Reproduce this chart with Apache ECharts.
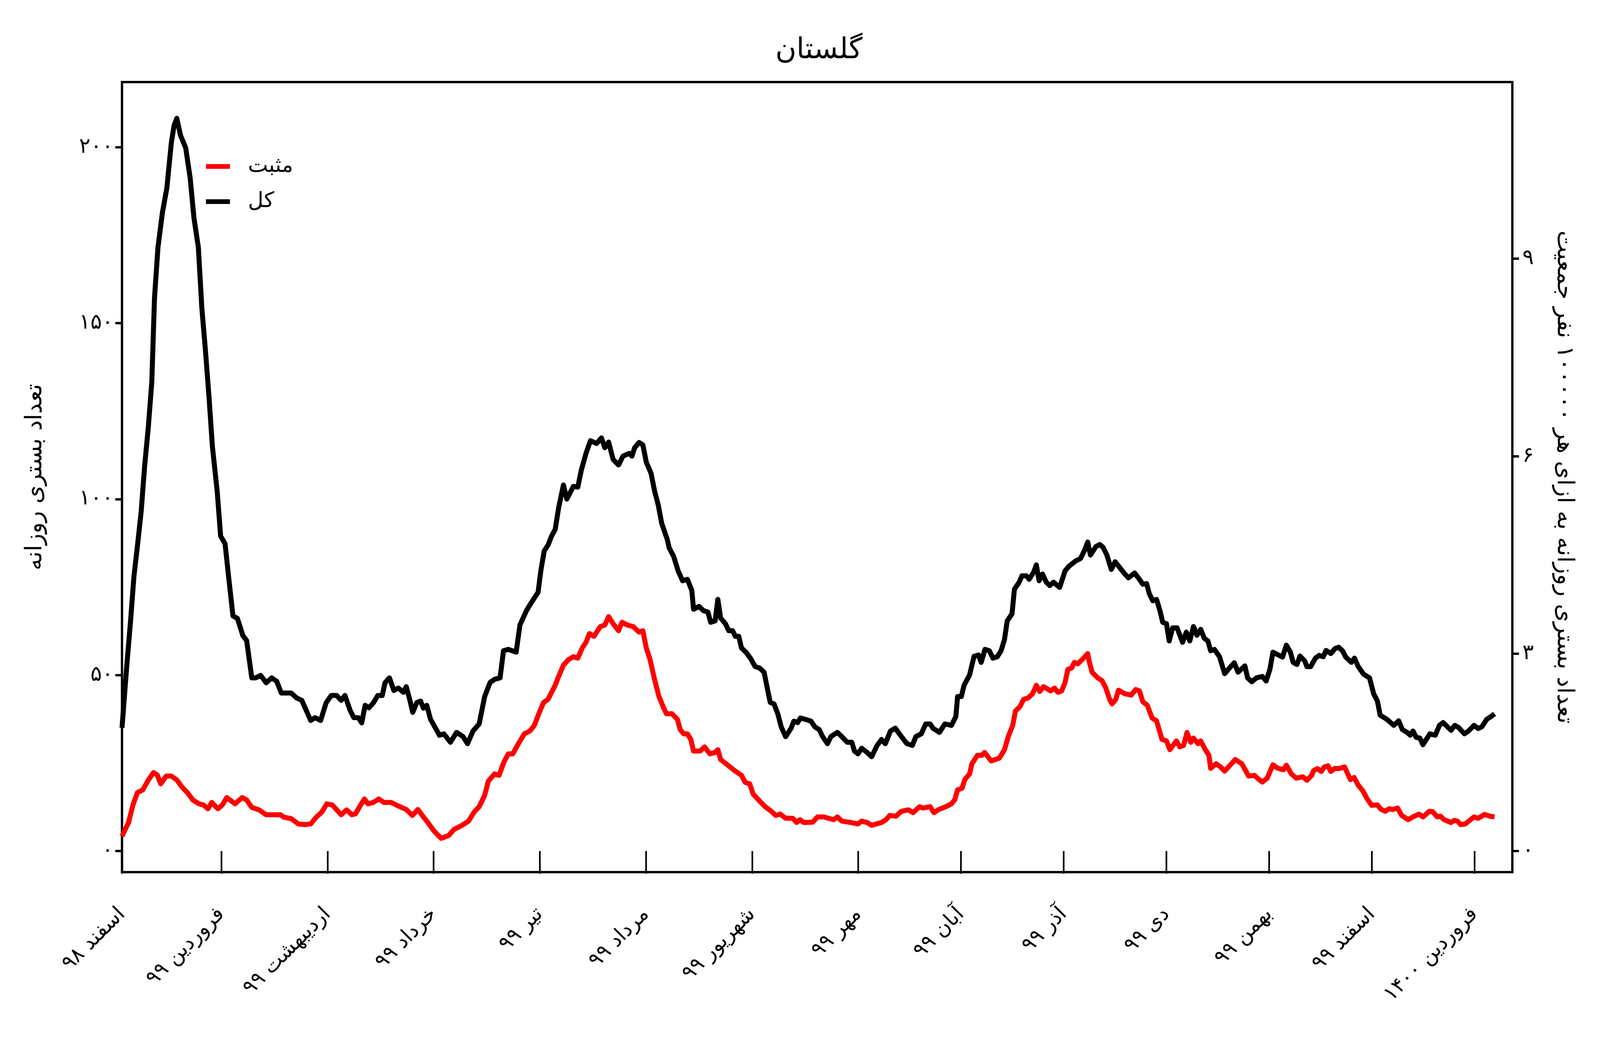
<!DOCTYPE html>
<html>
<head>
<meta charset="utf-8">
<script src="https://cdn.jsdelivr.net/npm/echarts@6/dist/echarts.min.js"></script>
<style>
  html, body { margin: 0; padding: 0; background: #fff; overflow: hidden; }
  #chart { width: 100vw; height: 100vh; }
</style>
</head>
<body>
<div id="chart"></div>
<script>
// روزهای شروع هر ماه شمسی (از ۱ اسفند ۹۸)
const monthStarts = [0, 29, 60, 91, 122, 153, 184, 215, 245, 275, 305, 335, 365, 395];
const monthLabels = ['اسفند ۹۸', 'فروردین ۹۹', 'اردیبهشت ۹۹', 'خرداد ۹۹', 'تیر ۹۹', 'مرداد ۹۹', 'شهریور ۹۹',
    'مهر ۹۹', 'آبان ۹۹', 'آذر ۹۹', 'دی ۹۹', 'بهمن ۹۹', 'اسفند ۹۹', 'فروردین ۱۴۰۰'];
const leftTicks = [0, 50, 100, 150, 200];
const rightTicks = [0, 3, 6, 9];
const perCapitaFactor = 18.7; // جمعیت / ۱۰۰۰۰۰

// کل بستری ها - [روز, مقدار]
const total = [
    [0, 35], [1.4, 52.7], [2.5, 65.4], [3.5, 78.2], [4.5, 86.6], [5.6, 96.5], [6.6, 109.3], [7.7, 120.6],
    [8.7, 133.3], [9.5, 157.3], [10.5, 171.5], [11.8, 181.4], [13.1, 188.4], [14.4, 201.2], [15.2, 206.1],
    [16, 208.2], [17.1, 203.3], [18.6, 199.8], [19.9, 191.3], [21, 180], [22.3, 171.5], [23.3, 154.5],
    [24.4, 141.8], [25.4, 129.1], [26.4, 114.9], [27.8, 102.2], [28.8, 89.5], [30.1, 87.3], [31.1, 78.2],
    [32.4, 66.8], [33.7, 66.1], [35.3, 61.2], [36.4, 59.8], [37.9, 49.2], [39, 49.2], [40.5, 49.9],
    [42.1, 47.8], [43.7, 49.2], [45.2, 48.2], [46.5, 44.9], [47.8, 44.9], [49.4, 44.9], [51, 43.5],
    [52.5, 42.8], [54.1, 39.3], [55.1, 37.1], [56.4, 37.9], [58, 37.1], [59.6, 42.1], [61.1, 44.2],
    [62.7, 44.2], [64, 42.8], [65.1, 44.2], [66.6, 40], [67.7, 37.9], [69, 37.9], [70, 36.4], [71, 41.4],
    [72.1, 40.7], [73.4, 42.1], [74.7, 44.2], [76, 44.2], [76.8, 47.8], [78.1, 49.2], [79.4, 45.6],
    [80.7, 46.3], [82.2, 45.1], [83, 46.7], [84, 43.1], [84.9, 39.4], [86.1, 42.2], [87.2, 42.6], [88, 40.6],
    [89, 41.4], [90.1, 37.4], [91.1, 35.7], [92.7, 32.9], [94, 33.3], [95.9, 30.9], [97.7, 33.7],
    [99.6, 32.5], [100.9, 30.5], [102.5, 34.1], [104.3, 36.1], [105.9, 43.9], [107.5, 47.9], [108.8, 48.8],
    [110.4, 49.2], [111.4, 56.9], [112.8, 57.3], [115.1, 56.5], [116.2, 64.2], [118.1, 68.3], [119.6, 70.7],
    [121.5, 73.5], [122.3, 79.6], [123.3, 85.3], [124.4, 86.9], [125.4, 89.4], [126.5, 91.4], [127.5, 97.5],
    [128.9, 104], [129.9, 100], [131.8, 103.6], [133.1, 103.4], [134.1, 108.1], [135.5, 113], [136.8, 116.6],
    [138.6, 115.8], [140, 117.4], [141, 114.6], [142.1, 116.2], [143.4, 111.3], [145, 109.7], [146.3, 112.2],
    [148.1, 113], [148.9, 112.2], [149.7, 114.6], [151, 116.1], [152.1, 115.4], [153.1, 110.5], [154.5, 107.3],
    [155.5, 102.4], [156.6, 98.3], [157.6, 93.1], [159.2, 88.6], [159.8, 86.1], [161.1, 83.7], [162.4, 79.6],
    [163.7, 76.8], [165.1, 77.2], [166.4, 74], [166.9, 68.7], [168.5, 69.5], [169.8, 68.3], [171.1, 67.9],
    [171.9, 65], [173.2, 65.4], [174, 71.5], [174.8, 66.2], [176.2, 64.6], [177.2, 62.6], [178.3, 62.6],
    [179.1, 61], [180.1, 61], [180.9, 57.7], [182.2, 56.5], [183.5, 54.8], [184.9, 52.4], [186.2, 52],
    [187.5, 50.8], [188.6, 45.5], [189.3, 42.2], [190.4, 41.8], [191.5, 39], [192.5, 35.3], [193.8, 32.5],
    [195.4, 34.9], [196.2, 36.9], [197.3, 36.5], [198.1, 37.8], [199.6, 37.4], [201.2, 36.9], [202.3, 35.3],
    [203.6, 34.5], [204.6, 32.5], [206, 30.5], [207, 32.5], [208.9, 33.7], [210.2, 32.5], [211.8, 30.9],
    [213.1, 30.9], [213.9, 28.4], [214.9, 27.6], [216, 29.2], [217.6, 28], [218.9, 26.8], [220.5, 30],
    [221.8, 31.7], [222.9, 30.5], [224.4, 34.1], [225.8, 34.9], [227.3, 32.9], [229.2, 30.5], [230.8, 30],
    [231.8, 32.5], [233.4, 33.3], [234.7, 36.1], [236, 36.1], [236.8, 34.9], [238.7, 33.7], [240.3, 36.1],
    [242.2, 35.7], [243.5, 38.2], [244, 43.9], [245.1, 43.9], [245.9, 47.1], [247.5, 50], [248.8, 55.3],
    [250.1, 55.7], [250.9, 53.6], [252, 57.3], [253.3, 56.9], [254.3, 54.8], [255.6, 55.2], [256.7, 56.9],
    [257.7, 60.1], [258.5, 65.4], [259.9, 67.4], [260.6, 74.4], [262, 76.4], [262.8, 78.2], [264.1, 78.2],
    [264.9, 77.2], [266.2, 79.2], [267, 81.3], [267.8, 76.8], [268.8, 78.7], [269.9, 76.4], [270.9, 75.4],
    [272, 76.4], [273.8, 74.9], [275.4, 79.6], [276.5, 80.9], [278.6, 82.5], [279.9, 83.1], [281.2, 85.7],
    [282, 87.8], [282.8, 84.1], [284.4, 86.5], [285.5, 87.1], [286.5, 86.3], [287.6, 84.1], [288.9, 80],
    [290, 82.2], [291.3, 80.6], [292.6, 79], [293.9, 77.6], [295.7, 79], [297.1, 77.2], [298.1, 75.8],
    [299.2, 76], [300, 73.1], [301, 71.1], [302.1, 71.5], [303.1, 68.3], [303.9, 65], [305, 64.6],
    [305.8, 59.7], [306.8, 63.4], [308.1, 63.4], [309.7, 59.3], [310.8, 62.2], [311.8, 59.7], [312.9, 63.8],
    [313.9, 61.3], [315, 63], [316, 60.5], [317.1, 59.7], [317.9, 56.9], [319, 57.3], [320.5, 55.2],
    [322, 50.4], [323.4, 52], [324.8, 53.5], [325.9, 50.8], [327.9, 52.6], [328.7, 49.2], [329.9, 48.1],
    [331.3, 49.2], [333, 49.6], [334.1, 48.3], [335.2, 51.6], [336.1, 56.5], [338.9, 55.1], [340, 58.5],
    [341.2, 56.5], [342, 53.6], [343.1, 53], [344, 55.4], [345.4, 54], [346, 52.4], [347.1, 52.4],
    [348.5, 54.8], [349.6, 55.6], [350.8, 55.2], [351.6, 57], [353, 56.1], [354.2, 57.5], [355.3, 57.9],
    [356.4, 56.9], [357.3, 55.2], [359, 53.6], [359.9, 54.8], [361, 52.4], [362.6, 50.2], [364.3, 49.2],
    [365.5, 44.7], [366.6, 42.6], [367.4, 38.6], [369.4, 37.4], [371.4, 35.7], [372.8, 37], [373.9, 34.5],
    [375.3, 33.7], [376.2, 32.9], [377, 34.1], [377.9, 32.3], [379, 32.1], [379.9, 30.2], [381.9, 33.3],
    [383.5, 32.9], [384.7, 35.7], [385.8, 36.5], [388.1, 34.3], [389.2, 35.7], [390.3, 35.1], [392, 33.3],
    [393.2, 34.1], [394.8, 35.7], [396, 34.8], [397.1, 35.3], [398.5, 37.4], [399.9, 38.3], [400.8, 39]
];

// بستری های مثبت - [روز, مقدار]
const positive = [
    [0, 4.2], [1.9, 8.1], [3.2, 13.1], [4.5, 16.6], [6.1, 17.4], [7.7, 20.2], [9.2, 22.3], [10.3, 21.6],
    [11.3, 19.1], [12.9, 21.3], [14.4, 21.3], [16, 20.2], [17.6, 18.1], [19.1, 16.6], [20.7, 14.5],
    [22.5, 13.4], [23.8, 13.1], [25.1, 12], [26.2, 13.8], [28, 12], [29.3, 13.1], [30.6, 15.2], [33, 13.4],
    [35.1, 15.2], [36.4, 14.5], [37.9, 12.4], [40, 11.7], [42.1, 10.3], [44.7, 10.3], [46.3, 10.3],
    [47.3, 9.6], [49.4, 9.2], [51.5, 7.7], [53.3, 7.5], [55.1, 7.7], [56.7, 9.6], [58.3, 11], [59.8, 13.4],
    [61.4, 13.1], [62.7, 11.7], [64, 10.3], [65.6, 11.7], [67.1, 10.3], [68.2, 10.6], [69.7, 13.1],
    [70.8, 14.8], [71.8, 13.4], [73.4, 13.8], [75, 14.8], [76.5, 13.8], [78.6, 13.8], [80.7, 12.8],
    [83, 11.8], [84.8, 10.1], [86.4, 11.8], [87.7, 10.1], [89.3, 8.1], [91.1, 5.7], [93.2, 3.6], [95.4, 4.4],
    [96.9, 6.1], [99.3, 7.3], [101.2, 8.5], [103, 11.3], [104.3, 12.6], [105.9, 15.8], [107, 19.9],
    [108.8, 21.9], [110.1, 21.5], [111.5, 25.2], [112.8, 27.6], [114.1, 27.6], [116, 30.9], [117.5, 33.3],
    [119.1, 34.1], [120.4, 35.7], [121.7, 39], [123.1, 42.2], [124.4, 43.1], [126.5, 47.1], [127.5, 49.6],
    [128.9, 52.8], [130.4, 54.4], [131.8, 55.2], [133.1, 54.8], [134.4, 57.7], [135.5, 59.3], [136.5, 61.8],
    [137.8, 61], [139.7, 63.8], [141, 64.2], [142.1, 66.6], [143.4, 64.6], [145, 62.6], [146, 65],
    [147.6, 64.2], [149.2, 63.8], [151, 62.2], [152.1, 62.6], [153.1, 57.7], [154.2, 54.4], [155.5, 48.8],
    [156.8, 43.9], [158.2, 40.6], [159, 39], [160.6, 39], [162.2, 37.4], [163, 34.5], [164, 33.3],
    [165.1, 33.3], [166.1, 31.7], [166.9, 28.4], [168.8, 28.4], [170.1, 29.6], [171.7, 27.6], [173.2, 28],
    [174, 28.8], [174.8, 26], [176.9, 24.4], [179.1, 22.7], [180.9, 21.5], [182, 19.5], [183.3, 19.1],
    [184.3, 16.2], [186.2, 14.2], [187.8, 12.6], [189.6, 11.3], [190.9, 10.1], [192.2, 10.5], [193.8, 9.3],
    [195.9, 9.3], [197, 8.1], [198, 8.9], [199.1, 8.1], [201.7, 8.2], [203.1, 9.7], [204.9, 9.7],
    [207.8, 8.9], [208.9, 9.7], [210.2, 8.5], [212.8, 8.1], [214.9, 7.7], [216, 8.5], [217.6, 8.1],
    [218.9, 7.3], [221.8, 8.1], [223.1, 8.9], [224.2, 10.1], [226, 9.9], [227.6, 11.3], [229.7, 11.7],
    [231, 10.9], [232.9, 12.6], [233.9, 12.2], [236, 12.6], [237.1, 10.9], [238.5, 11.8], [240.6, 12.6],
    [242.2, 13.4], [243.2, 14.6], [244, 17.4], [245.3, 17.8], [246.1, 20.3], [247.5, 21.9], [248.2, 24.8],
    [249.8, 27.2], [251.1, 27.2], [251.9, 28], [253.8, 25.6], [256.2, 26.4], [257.7, 28.8], [258.8, 32.5],
    [260.1, 35.7], [260.9, 39.8], [262.2, 41], [263.3, 43.1], [264.6, 43.5], [265.9, 44.7], [267, 47.1],
    [268, 45.3], [269.1, 46.7], [271.2, 45.5], [272.3, 46.3], [273.3, 45.1], [274.4, 45.5], [275.4, 47.9],
    [276.2, 51.6], [277.3, 52], [278.1, 53.6], [279.1, 53.2], [280.4, 54.4], [282, 56.1], [282.5, 53.6],
    [283.3, 50.8], [284.9, 49.2], [286.2, 48.4], [287.3, 46.3], [288.4, 43.1], [289.1, 41.8], [290.2, 43.1],
    [291, 45.7], [292.8, 44.7], [294.7, 44.3], [296, 45.9], [297.1, 45.5], [298.1, 42.4], [299.4, 41.4],
    [300.8, 37.8], [302.1, 37], [303.7, 31.7], [305, 31.3], [306, 28.8], [307.9, 31.3], [308.9, 29.6],
    [310, 30], [311, 33.7], [312.1, 30.9], [312.9, 32.1], [314.2, 30.5], [315, 31.3], [316.1, 29.2],
    [317.4, 27.2], [317.9, 23.5], [319.5, 24.8], [320.8, 23.9], [322, 22.7], [323.4, 24.2], [325.1, 26],
    [327, 24.8], [329, 21.3], [330.7, 21.5], [331.8, 20.5], [333, 19.6], [334.4, 20.7], [336.1, 24.5],
    [337.5, 23.5], [339.2, 23.1], [340, 24.4], [341.5, 21.9], [342.9, 20.7], [344.8, 21.1], [346, 20.1],
    [347.4, 21.5], [348, 22.9], [349.1, 23.4], [350.2, 22.6], [351.1, 23.9], [352.2, 24.2], [353, 22.6],
    [354.2, 23.5], [355.3, 23.4], [357, 23.9], [358.7, 20.3], [359.8, 20.9], [361, 18.7], [362.4, 17],
    [363.5, 15], [364.9, 13], [366.6, 13.1], [367.7, 11.8], [368.9, 11.3], [370, 12], [371.1, 11.8],
    [372.5, 12.2], [373.7, 10.1], [375.6, 8.9], [377, 9.7], [378.7, 10.5], [379.9, 9.7], [381.8, 11.3],
    [382.7, 11.2], [384.1, 9.7], [385, 9.9], [386.1, 8.9], [388.1, 8.1], [389, 8.7], [390, 8.5],
    [390.9, 7.5], [392.3, 7.7], [394.8, 9.7], [396, 9.3], [397.9, 10.4], [399.4, 9.9], [400.8, 9.7]
];

const faDigits = '۰۱۲۳۴۵۶۷۸۹';
function toFa(n) {
    return String(n).replace(/[0-9]/g, d => faDigits[d]);
}

// اندازه ها برای بوم ۴۸۰۰×۲۷۰۰ نوشته شده و با اندازه واقعی پنجره مقیاس می شوند
const SX = window.innerWidth / 4800;
const SY = window.innerHeight / 2700;
const px = v => v * SX;   // افقی و اندازه قلم
const py = v => v * SY;   // عمودی

const font = 'DejaVu Sans';
const leftMin = -6, leftMax = 218.5;

const option = {
    animation: false,
    backgroundColor: '#fff',
    textStyle: { fontFamily: font },
    title: {
        text: 'گلستان',
        left: px(2451),
        textAlign: 'center',
        top: py(88),
        textStyle: { fontFamily: font, fontSize: px(86), fontWeight: 'normal', color: '#000' }
    },
    legend: {
        data: ['مثبت', 'کل'],
        orient: 'vertical',
        left: px(612),
        top: py(392),
        icon: 'rect',
        itemWidth: px(72),
        itemHeight: py(12),
        itemGap: py(90) - px(68),
        textStyle: {
            fontFamily: font, fontSize: px(64), color: '#000',
            lineHeight: px(68), padding: [0, 0, 0, px(48)]
        }
    },
    grid: {
        left: px(366), right: px(263), top: py(210), bottom: py(468),
        show: true, borderColor: '#000', borderWidth: px(7), backgroundColor: 'transparent'
    },
    xAxis: {
        type: 'value',
        min: 0,
        max: 406,
        axisLine: { show: false },
        splitLine: { show: false },
        axisTick: {
            customValues: monthStarts,
            length: py(58),
            lineStyle: { color: '#000', width: px(5) }
        },
        axisLabel: {
            customValues: monthStarts,
            formatter: v => monthLabels[monthStarts.indexOf(v)],
            rotate: 45,
            margin: py(100),
            fontSize: px(62),
            color: '#000',
            fontFamily: font
        }
    },
    yAxis: [
        {
            type: 'value',
            position: 'left',
            min: leftMin,
            max: leftMax,
            name: 'تعداد بستری روزانه',
            nameLocation: 'middle',
            nameRotate: 90,
            nameGap: px(225),
            nameTextStyle: { fontFamily: font, fontSize: px(70), color: '#000' },
            axisLine: { show: false },
            splitLine: { show: false },
            axisTick: { customValues: leftTicks, length: px(20), lineStyle: { color: '#000', width: py(6) } },
            axisLabel: {
                customValues: leftTicks,
                formatter: v => toFa(v),
                margin: px(26),
                fontSize: px(64),
                color: '#000',
                fontFamily: font
            }
        },
        {
            type: 'value',
            position: 'right',
            min: leftMin / perCapitaFactor,
            max: leftMax / perCapitaFactor,
            name: 'تعداد بستری روزانه به ازای هر ۱۰۰۰۰۰ نفر جمعیت',
            nameLocation: 'middle',
            nameRotate: -90,
            nameGap: px(120),
            nameTextStyle: { fontFamily: font, fontSize: px(70), color: '#000' },
            axisLine: { show: false },
            splitLine: { show: false },
            axisTick: { customValues: rightTicks, length: px(20), lineStyle: { color: '#000', width: py(6) } },
            axisLabel: {
                customValues: rightTicks,
                formatter: v => toFa(v),
                margin: px(30),
                fontSize: px(64),
                color: '#000',
                fontFamily: font
            }
        }
    ],
    series: [
        {
            name: 'مثبت',
            type: 'line',
            yAxisIndex: 0,
            data: positive,
            showSymbol: false,
            color: '#ff0000',
            lineStyle: { color: '#ff0000', width: px(15), join: 'round' },
            z: 3
        },
        {
            name: 'کل',
            type: 'line',
            yAxisIndex: 0,
            data: total,
            showSymbol: false,
            color: '#000',
            lineStyle: { color: '#000', width: px(15), join: 'round' },
            z: 2
        }
    ]
};

const chart = echarts.init(document.getElementById('chart'));
chart.setOption(option);
</script>
</body>
</html>
